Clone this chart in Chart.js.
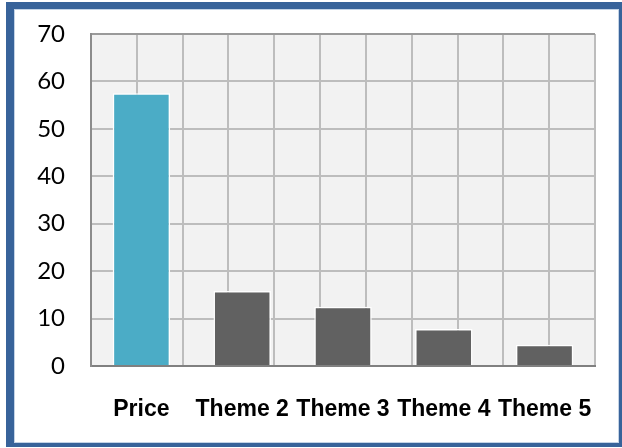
<!DOCTYPE html>
<html>
<head>
<meta charset="utf-8">
<script src="https://cdn.jsdelivr.net/npm/chart.js@4.4.1/dist/chart.umd.min.js"></script>
<style>
  html, body { margin: 0; padding: 0; background: #fff; }
  #wrap { position: relative; width: 622px; height: 448px; overflow: hidden; }
  #frame {
    position: absolute; left: 6px; top: 2px; width: 616px; height: 445px;
    box-sizing: border-box; background: #fff;
    border-style: solid; border-color: #38639a;
    border-width: 7px 3px 4px 8px;
    box-shadow: inset 0 0 0 1px #c3d3e6;
  }
  #box { position: absolute; left: 0; top: 0; width: 622px; height: 448px; }
</style>
</head>
<body>
<div id="wrap">
  <div id="frame"></div>
  <div id="box"><canvas id="chart"></canvas></div>
</div>
<script>
const categories = ['Price', 'Theme 2', 'Theme 3', 'Theme 4', 'Theme 5'];
const values = [57.5, 15.8, 12.5, 7.8, 4.5];
const barColors = ['#4bacc6', '#616161', '#616161', '#616161', '#616161'];
const yTicks = [0, 10, 20, 30, 40, 50, 60, 70];

// grey plot background
const plotBg = {
  id: 'plotBg',
  beforeDraw(chart) {
    const { ctx, chartArea: a } = chart;
    ctx.save();
    ctx.fillStyle = '#f2f2f2';
    ctx.fillRect(a.left, a.top, a.right - a.left, a.bottom - a.top);
    ctx.restore();
  }
};

new Chart(document.getElementById('chart'), {
  type: 'bar',
  data: {
    labels: categories,
    datasets: [{
      data: values,
      backgroundColor: barColors,
      borderColor: '#ffffff',
      borderWidth: 1.5,
      categoryPercentage: 1,
      barPercentage: 0.57
    }]
  },
  options: {
    responsive: true,
    maintainAspectRatio: false,
    animation: false,
    layout: { padding: { left: 0, top: 34, right: 27, bottom: 0 } },
    plugins: { legend: { display: false }, tooltip: { enabled: false } },
    scales: {
      x: {
        grid: { display: false },
        border: { display: true, color: '#808080', width: 2 },
        ticks: {
          color: '#000',
          font: { family: 'Liberation Sans', size: 23, weight: 'bold' },
          padding: 22,
          maxRotation: 0,
          autoSkip: false
        },
        afterFit(s) { s.height = 82; s.paddingLeft = 0; s.paddingRight = 0; }
      },
      x2: {
        type: 'linear',
        position: 'bottom',
        min: 0,
        max: 10,
        grid: { color: '#bdbdbd', lineWidth: 2, drawTicks: false },
        border: { display: false },
        ticks: { display: false, stepSize: 1 },
        afterFit(s) { s.height = 0; }
      },
      y: {
        min: 0,
        max: 70,
        afterBuildTicks(s) { s.ticks = yTicks.map(v => ({ value: v })); },
        grid: {
          color: c => c.tick && c.tick.value === 70 ? '#9a9a9a' : '#bdbdbd',
          lineWidth: 2,
          drawTicks: false
        },
        border: { display: true, color: '#8c8c8c', width: 2 },
        ticks: {
          color: '#000',
          font: { family: 'Lato', size: 24 },
          padding: 26
        },
        afterFit(s) { s.width = 91; s.paddingTop = 0; s.paddingBottom = 0; }
      }
    }
  },
  plugins: [plotBg]
});
</script>
</body>
</html>
